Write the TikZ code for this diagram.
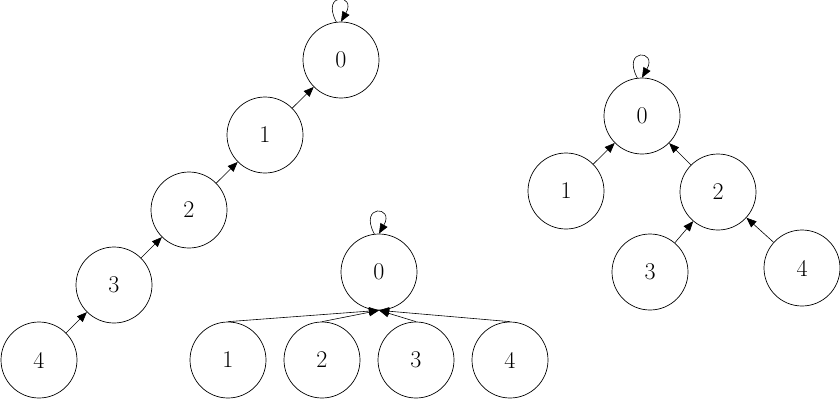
\documentclass[tikz,border=0pt]{standalone}
\usetikzlibrary{arrows.meta,calc}
\begin{document}
\begin{tikzpicture}[x=1pt,y=-1pt,
  vtx/.style={circle,draw,line width=0.7pt,minimum size=76pt,inner sep=0pt,font=\fontsize{24}{28}\selectfont},
  arr/.style={-{Triangle[length=10pt,width=8pt]},line width=0.6pt},
  selfloop/.style={arr}]
\useasboundingbox (0,0) rectangle (840,400);
% left chain
\node[vtx] (a0) at (341,60) {0};
\node[vtx] (a1) at (265,135) {1};
\node[vtx] (a2) at (189,210) {2};
\node[vtx] (a3) at (114,285) {3};
\node[vtx] (a4) at (39,360) {4};
\draw[arr] (a4) -- (a3);
\draw[arr] (a3) -- (a2);
\draw[arr] (a2) -- (a1);
\draw[arr] (a1) -- (a0);
\draw[selfloop] (a0.97) .. controls +(-16,-30) and +(16,-28) .. (a0.north);
% middle star
\node[vtx] (m0) at (379,272) {0};
\node[vtx] (m1) at (228,360) {1};
\node[vtx] (m2) at (322,360) {2};
\node[vtx] (m3) at (416,360) {3};
\node[vtx] (m4) at (510,360) {4};
\draw[arr] (m1.north) -- (m0.south);
\draw[arr] (m2.north) -- (m0.south);
\draw[arr] (m3.north) -- (m0.south);
\draw[arr] (m4.north) -- (m0.south);
\draw[selfloop] (m0.97) .. controls +(-16,-30) and +(16,-28) .. (m0.north);
% right tree
\node[vtx] (r0) at (642,116) {0};
\node[vtx] (r1) at (566,191) {1};
\node[vtx] (r2) at (718,192) {2};
\node[vtx] (r3) at (650,272) {3};
\node[vtx] (r4) at (802,268) {4};
\draw[arr] (r1) -- (r0);
\draw[arr] (r2) -- (r0);
\draw[arr] (r3) -- (r2);
\draw[arr] (r4) -- (r2);
\draw[selfloop] (r0.97) .. controls +(-16,-30) and +(16,-28) .. (r0.north);
\end{tikzpicture}
\end{document}
